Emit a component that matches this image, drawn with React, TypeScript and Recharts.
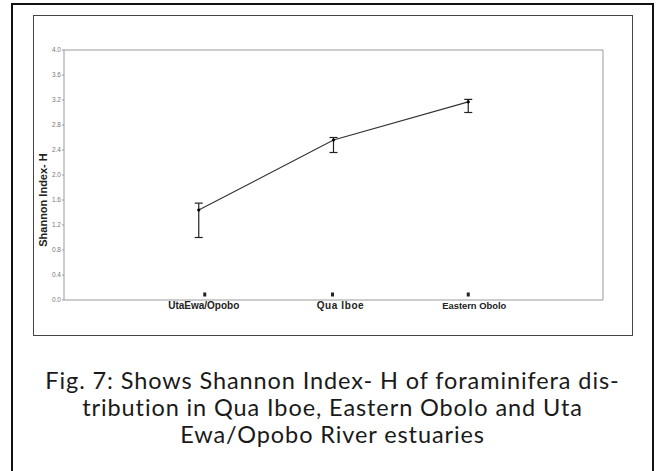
import React from 'react';
import { LineChart, Line, XAxis, YAxis, ErrorBar, ReferenceLine } from 'recharts';

const categories = ['UtaEwa/Opobo', 'Qua Iboe', 'Eastern Obolo'];
const shannonH = [1.44, 2.56, 3.17];
const lowerBound = [1.0, 2.36, 3.0];
const upperBound = [1.55, 2.6, 3.21];
const yTicks = [0, 0.4, 0.8, 1.2, 1.6, 2.0, 2.4, 2.8, 3.2, 3.6, 4.0];
const captionLines = [
  'Fig. 7: Shows Shannon Index- H of foraminifera dis-',
  'tribution in Qua Iboe, Eastern Obolo and Uta',
  'Ewa/Opobo River estuaries',
];

const data = categories.map((name, i) => ({
  pos: i + 1,
  name,
  h: shannonH[i],
  err: [shannonH[i] - lowerBound[i], upperBound[i] - shannonH[i]],
}));

const squareDx = [6, -1, 0];
const labelDx = [5, 7, 6];
const labelSize = [10, 10, 9.4];

const XTick = (props: any) => {
  const { x, y, payload } = props;
  const idx = Math.round(payload.value) - 1;
  const label = categories[idx] ?? '';
  return (
    <g>
      <rect x={x + (squareDx[idx] ?? 0) - 1.5} y={y - 7.5} width={3} height={4} fill="#222" />
      <text
        x={x + (labelDx[idx] ?? 0)}
        y={y + 9}
        textAnchor="middle"
        fontFamily="Liberation Sans, Arial, sans-serif"
        fontWeight="bold"
        fontSize={labelSize[idx] ?? 9}
        letterSpacing={idx === 1 ? 0.6 : 0}
        fill="#222"
      >
        {label}
      </text>
    </g>
  );
};

export default function App() {
  return (
    <div style={{ position: 'absolute', left: 0, top: 0, width: 656, height: 471, background: '#fff', overflow: 'hidden' }}>
      <div
        style={{
          position: 'absolute',
          left: 11,
          top: 3,
          width: 643,
          height: 490,
          boxSizing: 'border-box',
          border: '2px solid #111',
        }}
      />
      <div
        style={{
          position: 'absolute',
          left: 33,
          top: 15,
          width: 600,
          height: 321,
          boxSizing: 'border-box',
          border: '1.5px solid #444',
        }}
      />
      <div style={{ position: 'absolute', left: 0, top: 0 }}>
        <LineChart width={656} height={340} data={data} margin={{ top: 50, right: 53, left: 0, bottom: 20 }}>
          <XAxis
            dataKey="pos"
            type="number"
            domain={[0, 4]}
            ticks={[1, 2, 3]}
            height={20}
            axisLine={{ stroke: '#9a9a9a', strokeWidth: 1 }}
            tickLine={false}
            tickSize={0}
            tickMargin={0}
            tick={<XTick />}
            interval={0}
          />
          <YAxis
            type="number"
            domain={[0, 4]}
            ticks={yTicks}
            width={64}
            interval={0}
            tickFormatter={(v: number) => v.toFixed(1)}
            axisLine={{ stroke: '#9a9a9a', strokeWidth: 1 }}
            tickLine={{ stroke: '#9a9a9a' }}
            tickSize={2}
            tickMargin={1}
            tick={{ fontSize: 6.5, fill: '#777', fontFamily: 'Liberation Sans, Arial, sans-serif' }}
            label={{
              value: 'Shannon Index- H',
              angle: -90,
              position: 'center',
              dx: 11,
              dy: 25,
              style: { fontSize: 11, fontWeight: 'bold', fill: '#222', fontFamily: 'Liberation Sans, Arial, sans-serif' },
            }}
          />
          <ReferenceLine y={4} stroke="#9a9a9a" strokeWidth={1} />
          <ReferenceLine x={4} stroke="#9a9a9a" strokeWidth={1} />
          <Line
            type="linear"
            dataKey="h"
            stroke="#333"
            strokeWidth={1.1}
            dot={{ r: 1.3, fill: '#000', stroke: '#000', strokeWidth: 0.5 }}
            activeDot={false}
            isAnimationActive={false}
          >
            <ErrorBar dataKey="err" width={4} stroke="#222" strokeWidth={1.2} direction="y" />
          </Line>
        </LineChart>
      </div>
      <div
        style={{
          position: 'absolute',
          left: 12,
          top: 367,
          width: 641,
          textAlign: 'center',
          fontFamily: 'Lato, sans-serif',
          fontWeight: 400,
          fontSize: 23.5,
          letterSpacing: 0.9,
          lineHeight: '27px',
          color: '#1a1a1a',
        }}
      >
        {captionLines.map((l, i) => (
          <div key={i}>{l}</div>
        ))}
      </div>
    </div>
  );
}
